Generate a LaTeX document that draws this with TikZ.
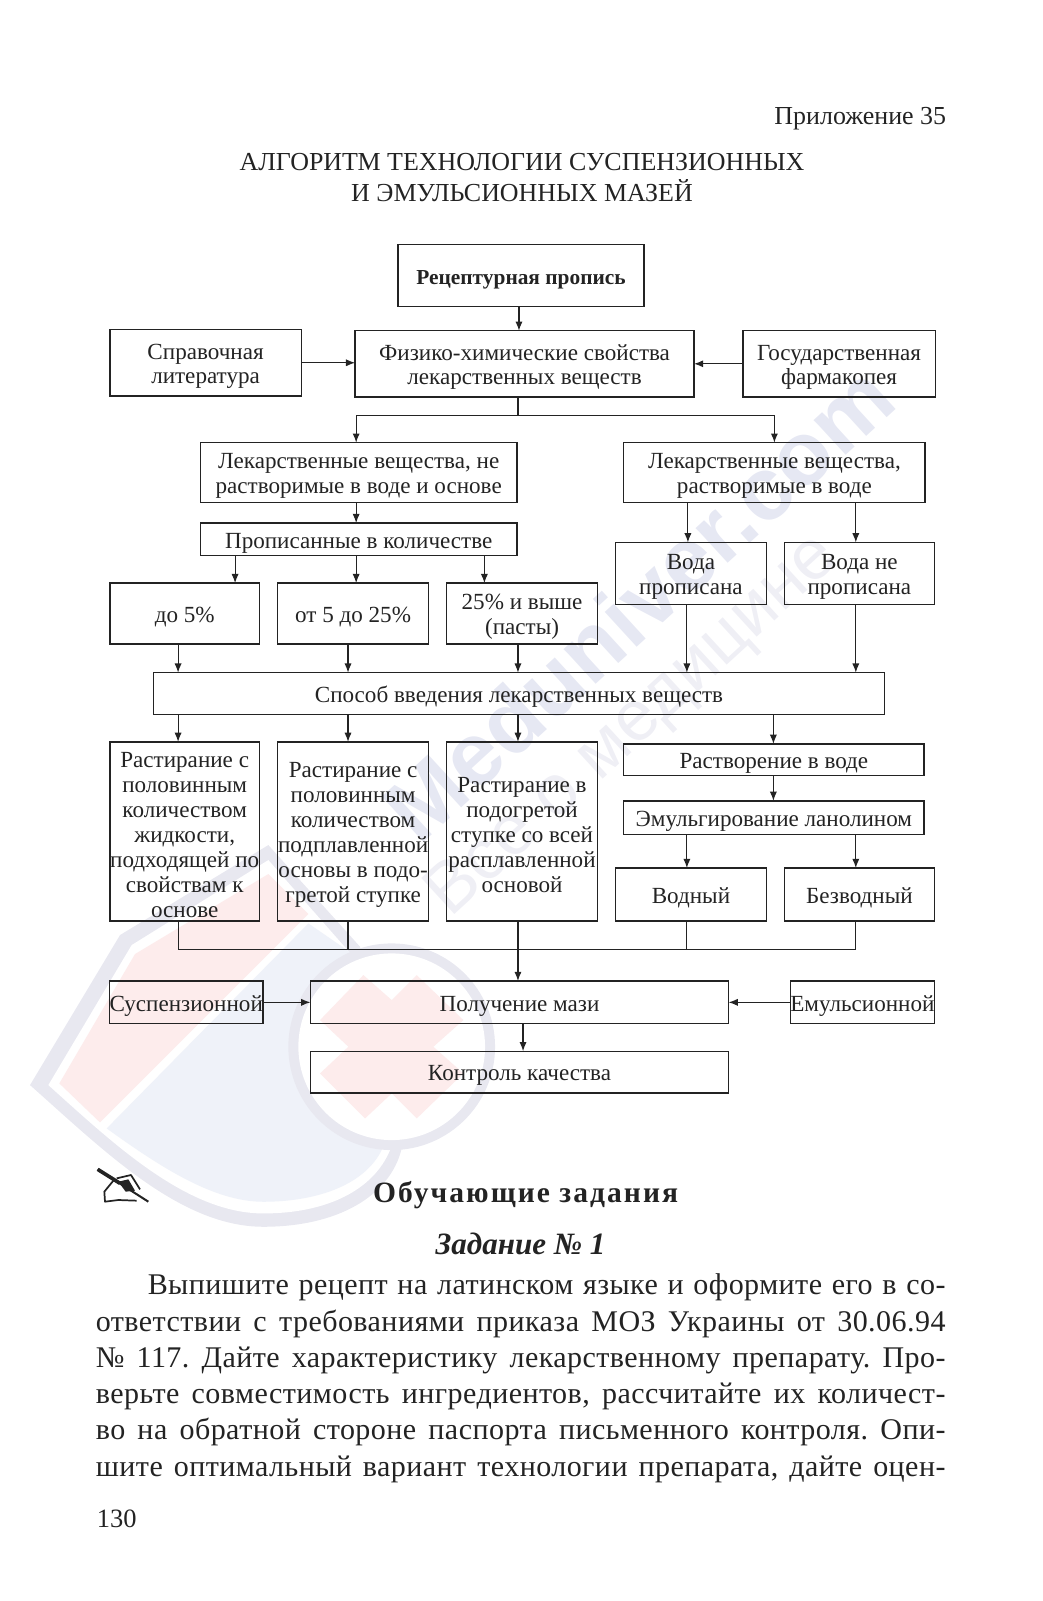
\documentclass[tikz,border=0pt]{standalone}
\usepackage{fontspec}
\setmainfont{Liberation Serif}
\newfontfamily\wmfont{Liberation Sans}
\usetikzlibrary{arrows.meta}
\definecolor{wmband}{RGB}{232,232,240}
\definecolor{wmblue}{RGB}{239,242,249}
\definecolor{wmpink}{RGB}{253,236,236}
\definecolor{wmgrey}{RGB}{230,232,243}
\definecolor{wmpale}{RGB}{239,239,245}
\definecolor{ink}{RGB}{35,35,35}
\tikzset{
  box/.style={draw=ink,line width=1.3pt,inner sep=0pt,outer sep=0pt,align=center,font=\fontsize{22.7}{24.5}\selectfont,text=ink},
  arr/.style={draw=ink,line width=1.1pt,-{Latex[length=9pt,width=7pt]}},
  lin/.style={draw=ink,line width=1.1pt},
  txt/.style={inner sep=0pt,text=ink},
  bodyline/.style={inner sep=0pt,text=ink,anchor=base west,font=\fontsize{29.5}{31}\selectfont\addfontfeature{LetterSpace=1.5}}
}
\newcommand{\bx}[6]{\node[box,minimum width=#4pt-#2pt,minimum height=#5pt-#3pt] (#1) at ({(#2+#4)/2},{(#3+#5)/2}) {\rule{0pt}{22pt}#6};}
\newcommand{\dn}[3]{\draw[arr] (#1.south -| #3,0) -- (#2.north -| #3,0);}
\begin{document}
\frenchspacing
\begin{tikzpicture}[x=1pt,y=-1pt]
\useasboundingbox (-1,-2) rectangle (1023,1571.3);
% watermark shield
\begin{scope}[shift={(18.65,784.2)},x=.3276pt,y=-.3276pt]
\fill[wmband] (30,855) -- (300,405) -- (745,135) -- (1020,440) -- (1145,1045) .. controls (1110,1190) and (950,1280) .. (730,1280) .. controls (480,1280) and (250,1050) .. (30,855) -- cycle;
\fill[white] (85,855) -- (335,435) -- (745,180) -- (1000,470) -- (1110,1050) .. controls (1060,1170) and (920,1240) .. (730,1240) .. controls (500,1240) and (280,1030) .. (85,855) -- cycle;
\fill[wmblue] (260,985) -- (865,370) -- (1010,470) -- (1085,1050) .. controls (1030,1160) and (880,1205) .. (730,1205) .. controls (580,1205) and (420,1100) .. (260,985) -- cycle;
\fill[wmpink] (118,850) -- (345,462) -- (745,222) -- (865,342) -- (240,967) -- cycle;
\fill[wmband] (1115,740) circle (310);
\fill[white] (1115,740) circle (280);
\fill[wmpink] (900,660) -- (1030,525) -- (1115,600) -- (1190,525) -- (1330,660) -- (1240,740) -- (1330,820) -- (1190,955) -- (1115,880) -- (1035,955) -- (900,820) -- (985,740) -- cycle;
\end{scope}
\node[rotate=42.5,font=\fontsize{88}{90}\selectfont\wmfont\bfseries,text=wmgrey,inner sep=0pt] (wm1) at (626,590) {Meduniver.com};
\node[rotate=42.5,font=\fontsize{70}{72}\selectfont\wmfont,text=wmpale,inner sep=0pt] (wm2) at (622,712) {Все о медицине};
% header
\node[txt,anchor=base east,font=\fontsize{25.5}{27}\selectfont] (app) at (929,120) {Приложение 35};
\node[txt,anchor=base,font=\fontsize{25.5}{27}\selectfont] (t1) at (512,166) {АЛГОРИТМ ТЕХНОЛОГИИ СУСПЕНЗИОННЫХ};
\node[txt,anchor=base,font=\fontsize{25.5}{27}\selectfont] (t2) at (512,196) {И ЭМУЛЬСИОННЫХ МАЗЕЙ};
% boxes
\bx{rec}{390}{238}{632}{299}{\fontsize{21}{24.5}\selectfont\bfseries Рецептурная пропись}
\bx{spr}{107}{322}{295}{387}{Справочная\\литература}
\bx{phys}{348}{323}{681}{388}{Физико-химические свойства\\лекарственных веществ}
\bx{gos}{729}{323}{918}{388}{Государственная\\фармакопея}
\bx{nerast}{196}{433}{507}{492}{Лекарственные вещества, не\\растворимые в воде и основе}
\bx{rast}{612}{433}{908}{492}{Лекарственные вещества,\\растворимые в воде}
\bx{kol}{196}{512}{507}{544}{Прописанные в количестве}
\bx{voda}{604}{531}{752}{592}{Вода\\прописана}
\bx{nevoda}{770}{531}{917}{592}{Вода не\\прописана}
\bx{do}{107}{571}{254}{631}{до 5\%}
\bx{ot}{272}{571}{420}{631}{от 5 до 25\%}
\bx{vys}{438}{571}{586}{631}{25\% и выше\\(пасты)}
\bx{sp}{150}{659}{868}{700}{Способ введения лекарственных веществ}
\bx{r1}{107}{727}{254}{903}{Растирание с\\половинным\\количеством\\жидкости,\\подходящей по\\свойствам к\\основе}
\bx{r2}{272}{727}{420}{903}{Растирание с\\половинным\\количеством\\подплавленной\\основы в подо-\\гретой ступке}
\bx{r3}{438}{727}{586}{903}{Растирание в\\подогретой\\ступке со всей\\расплавленной\\основой}
\bx{rv}{612}{729}{907}{760}{Растворение в воде}
\bx{em}{612}{785}{907}{818}{Эмульгирование ланолином}
\bx{vod}{604}{851}{752}{903}{Водный}
\bx{bez}{770}{851}{917}{903}{Безводный}
\bx{sus}{107}{962}{257}{1004}{Суспензионной}
\bx{pol}{304}{962}{715}{1004}{Получение мази}
\bx{emu}{776}{962}{917}{1004}{Емульсионной}
\bx{kon}{304}{1031}{715}{1072}{Контроль качества}
% connectors
\dn{rec}{phys}{509}
\draw[arr] (spr.east) -- (spr.east -| phys.west);
\draw[arr] (gos.west) -- (gos.west -| phys.east);
\coordinate (busa) at (508,406);
\draw[lin] (phys.south -| busa) -- (busa);
\draw[arr] (busa) -| (nerast.north -| 349,0);
\draw[arr] (busa) -| (rast.north -| 760,0);
\dn{nerast}{kol}{349}
\dn{kol}{do}{230}
\dn{kol}{ot}{349}
\dn{kol}{vys}{475}
\dn{rast}{voda}{675}
\dn{rast}{nevoda}{840}
\dn{do}{sp}{174}
\dn{ot}{sp}{341}
\dn{vys}{sp}{508}
\dn{voda}{sp}{674}
\dn{nevoda}{sp}{840}
\dn{sp}{r1}{174}
\dn{sp}{r2}{341}
\dn{sp}{r3}{508}
\dn{sp}{rv}{759}
\dn{rv}{em}{759}
\dn{em}{vod}{674}
\dn{em}{bez}{840}
\coordinate (busb) at (508,931);
\coordinate (busr) at (840,931);
\draw[lin] (r1.south -| 174,0) |- (busr) -- (bez.south -| busr);
\draw[lin] (r2.south -| 341,0) -- (busb -| 341,0);
\draw[lin] (vod.south -| 674,0) -- (busb -| 674,0);
\dn{r3}{pol}{508}
\draw[arr] (sus.east) -- (pol.west);
\draw[arr] (emu.west) -- (pol.east);
\dn{pol}{kon}{513}
% pencil icon
\begin{scope}[shift={(82.53,1128.1)},x=.3276pt,y=-.3276pt]
\draw[ink,line width=2pt] (38,58) -- (190,155);
\draw[ink,line width=3.6pt] (38,58) -- (105,100);
\draw[ink,line width=1.7pt,line join=round] (85,92) -- (58,125) -- (60,155) -- (100,150) -- (155,152) (95,85) -- (138,75) -- (165,118);
\fill[ink] (100,95) -- (130,88) -- (150,122) -- (122,125) -- cycle;
\end{scope}
% lower text
\node[txt,anchor=base,font=\fontsize{29}{31}\selectfont\bfseries\addfontfeature{LetterSpace=7}] (h1) at (515.5,1179.5) {Обучающие задания};
\node[txt,anchor=base,font=\fontsize{30.5}{32}\selectfont\bfseries\itshape] (h2) at (510.5,1230.5) {Задание № 1};
\node[bodyline] (b1) at (144,1270) {\makebox[784pt][s]{Выпишите рецепт на латинском языке и оформите его в со-}};
\node[bodyline] (b2) at (93,1306) {\makebox[835pt][s]{ответствии с требованиями приказа МОЗ Украины от 30.06.94}};
\node[bodyline] (b3) at (93,1342) {\makebox[835pt][s]{№ 117. Дайте характеристику лекарственному препарату. Про-}};
\node[bodyline] (b4) at (93,1377.5) {\makebox[835pt][s]{верьте совместимость ингредиентов, рассчитайте их количест-}};
\node[bodyline] (b5) at (93,1413) {\makebox[835pt][s]{во на обратной стороне паспорта письменного контроля. Опи-}};
\node[bodyline] (b6) at (93,1449) {\makebox[835pt][s]{шите оптимальный вариант технологии препарата, дайте оцен-}};
\node[txt,anchor=base west,font=\fontsize{26}{28}\selectfont] (pg) at (94,1499.5) {130};
\end{tikzpicture}
\end{document}
